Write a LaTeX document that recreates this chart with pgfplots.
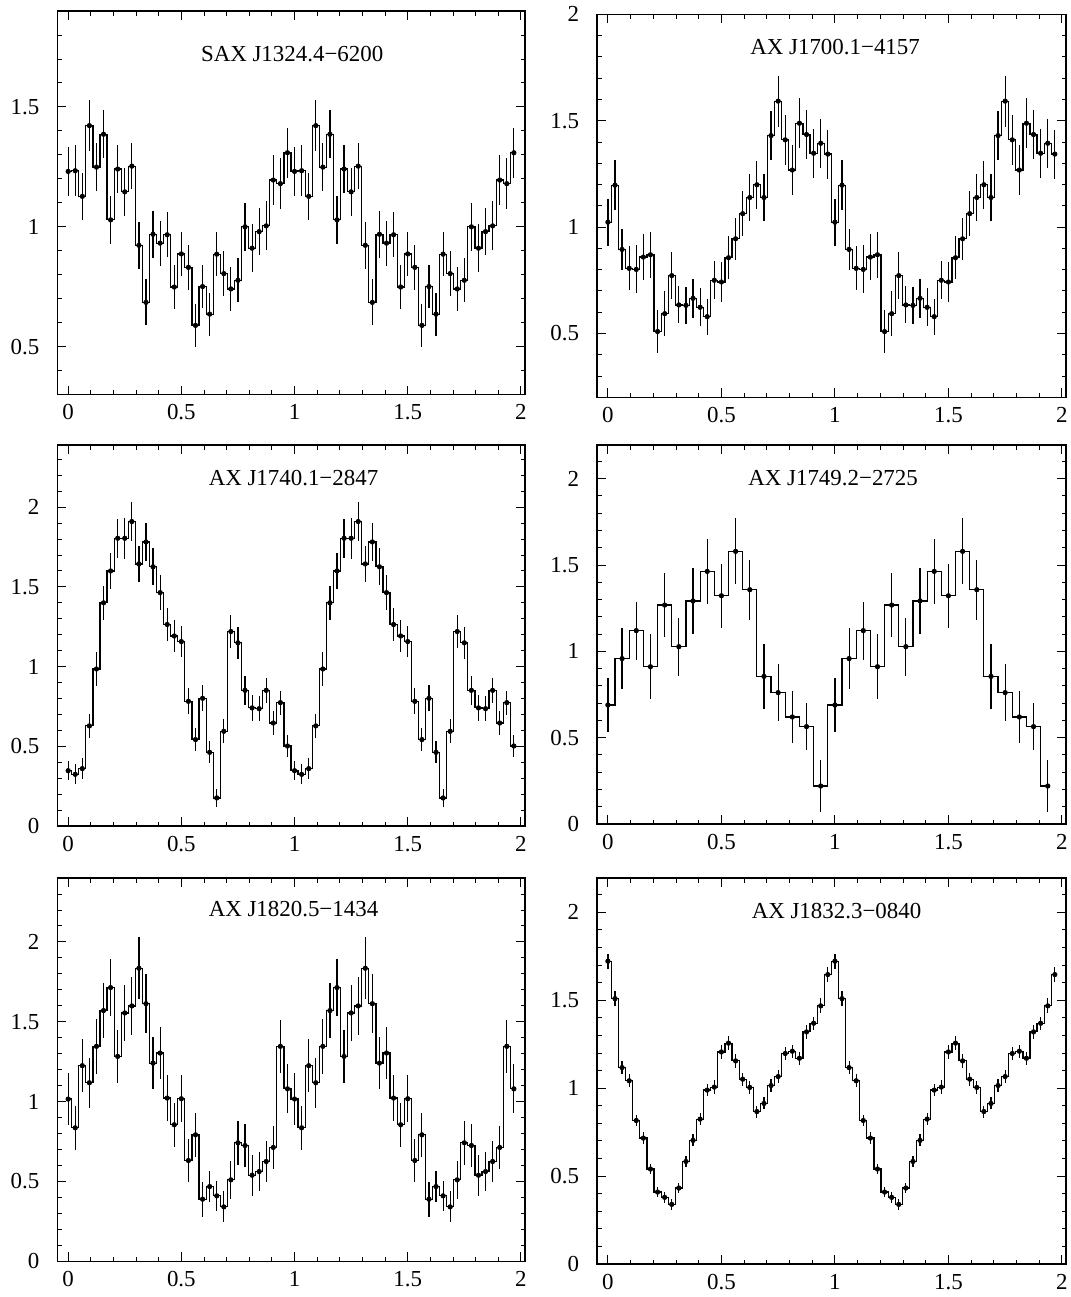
\documentclass[border=0pt]{standalone}
\usepackage{pgfplots}
\pgfplotsset{compat=1.18}
\usepackage{pgfplotstable}
\usepackage{fontspec}
\setmainfont{Liberation Serif}

\pgfplotstableread{
x y e
0.00000 1.231 0.103
0.03125 1.234 0.106
0.06250 1.127 0.099
0.09375 1.422 0.107
0.12500 1.249 0.101
0.15625 1.386 0.100
0.18750 1.029 0.099
0.21875 1.241 0.100
0.25000 1.146 0.100
0.28125 1.253 0.096
0.31250 0.923 0.097
0.34375 0.685 0.096
0.37500 0.969 0.097
0.40625 0.932 0.094
0.43750 0.967 0.093
0.46875 0.749 0.092
0.50000 0.887 0.092
0.53125 0.831 0.093
0.56250 0.589 0.090
0.59375 0.751 0.091
0.62500 0.636 0.090
0.65625 0.886 0.092
0.68750 0.805 0.093
0.71875 0.741 0.093
0.75000 0.777 0.092
0.78125 1.000 0.099
0.81250 0.911 0.099
0.84375 0.980 0.098
0.87500 1.004 0.102
0.90625 1.195 0.106
0.93750 1.180 0.106
0.96875 1.309 0.104
1.00000 1.231 0.103
1.03125 1.234 0.106
1.06250 1.127 0.099
1.09375 1.422 0.107
1.12500 1.249 0.101
1.15625 1.386 0.100
1.18750 1.029 0.099
1.21875 1.241 0.100
1.25000 1.146 0.100
1.28125 1.253 0.096
1.31250 0.923 0.097
1.34375 0.685 0.096
1.37500 0.969 0.097
1.40625 0.932 0.094
1.43750 0.967 0.093
1.46875 0.749 0.092
1.50000 0.887 0.092
1.53125 0.831 0.093
1.56250 0.589 0.090
1.59375 0.751 0.091
1.62500 0.636 0.090
1.65625 0.886 0.092
1.68750 0.805 0.093
1.71875 0.741 0.093
1.75000 0.777 0.092
1.78125 1.000 0.099
1.81250 0.911 0.099
1.84375 0.980 0.098
1.87500 1.004 0.102
1.90625 1.195 0.106
1.93750 1.180 0.106
1.96875 1.309 0.104
}\dataA

\pgfplotstableread{
x y e
0.00000 1.023 0.110
0.03125 1.197 0.116
0.06250 0.895 0.098
0.09375 0.806 0.103
0.12500 0.801 0.113
0.15625 0.859 0.109
0.18750 0.870 0.108
0.21875 0.509 0.103
0.25000 0.593 0.107
0.28125 0.772 0.110
0.31250 0.634 0.087
0.34375 0.632 0.088
0.37500 0.665 0.093
0.40625 0.623 0.090
0.43750 0.579 0.085
0.46875 0.750 0.090
0.50000 0.742 0.094
0.53125 0.856 0.100
0.56250 0.945 0.100
0.59375 1.063 0.105
0.62500 1.139 0.110
0.65625 1.199 0.113
0.68750 1.139 0.110
0.71875 1.430 0.115
0.75000 1.592 0.120
0.78125 1.410 0.118
0.81250 1.268 0.117
0.84375 1.488 0.117
0.87500 1.435 0.115
0.90625 1.347 0.115
0.93750 1.394 0.115
0.96875 1.343 0.115
1.00000 1.023 0.110
1.03125 1.197 0.116
1.06250 0.895 0.098
1.09375 0.806 0.103
1.12500 0.801 0.113
1.15625 0.859 0.109
1.18750 0.870 0.108
1.21875 0.509 0.103
1.25000 0.593 0.107
1.28125 0.772 0.110
1.31250 0.634 0.087
1.34375 0.632 0.088
1.37500 0.665 0.093
1.40625 0.623 0.090
1.43750 0.579 0.085
1.46875 0.750 0.090
1.50000 0.742 0.094
1.53125 0.856 0.100
1.56250 0.945 0.100
1.59375 1.063 0.105
1.62500 1.139 0.110
1.65625 1.199 0.113
1.68750 1.139 0.110
1.71875 1.430 0.115
1.75000 1.592 0.120
1.78125 1.410 0.118
1.81250 1.268 0.117
1.84375 1.488 0.117
1.87500 1.435 0.115
1.90625 1.347 0.115
1.93750 1.394 0.115
1.96875 1.343 0.115
}\dataB

\pgfplotstableread{
x y e
0.00000 0.347 0.058
0.03125 0.324 0.063
0.06250 0.360 0.065
0.09375 0.628 0.076
0.12500 0.985 0.105
0.15625 1.400 0.105
0.18750 1.600 0.115
0.21875 1.805 0.123
0.25000 1.805 0.128
0.28125 1.910 0.125
0.31250 1.644 0.115
0.34375 1.782 0.117
0.37500 1.626 0.117
0.40625 1.464 0.110
0.43750 1.264 0.105
0.46875 1.192 0.101
0.50000 1.157 0.095
0.53125 0.782 0.082
0.56250 0.542 0.073
0.59375 0.801 0.082
0.62500 0.462 0.069
0.65625 0.176 0.055
0.68750 0.594 0.075
0.71875 1.220 0.103
0.75000 1.149 0.099
0.78125 0.851 0.089
0.81250 0.741 0.080
0.84375 0.736 0.080
0.87500 0.851 0.078
0.90625 0.646 0.078
0.93750 0.774 0.075
0.96875 0.502 0.069
1.00000 0.347 0.058
1.03125 0.324 0.063
1.06250 0.360 0.065
1.09375 0.628 0.076
1.12500 0.985 0.105
1.15625 1.400 0.105
1.18750 1.600 0.115
1.21875 1.805 0.123
1.25000 1.805 0.128
1.28125 1.910 0.125
1.31250 1.644 0.115
1.34375 1.782 0.117
1.37500 1.626 0.117
1.40625 1.464 0.110
1.43750 1.264 0.105
1.46875 1.192 0.101
1.50000 1.157 0.095
1.53125 0.782 0.082
1.56250 0.542 0.073
1.59375 0.801 0.082
1.62500 0.462 0.069
1.65625 0.176 0.055
1.68750 0.594 0.075
1.71875 1.220 0.103
1.75000 1.149 0.099
1.78125 0.851 0.089
1.81250 0.741 0.080
1.84375 0.736 0.080
1.87500 0.851 0.078
1.90625 0.646 0.078
1.93750 0.774 0.075
1.96875 0.502 0.069
}\dataC

\pgfplotstableread{
x y e
0.0000 0.689 0.157
0.0625 0.958 0.177
0.1250 1.120 0.168
0.1875 0.911 0.189
0.2500 1.268 0.183
0.3125 1.027 0.168
0.3750 1.292 0.193
0.4375 1.463 0.189
0.5000 1.322 0.186
0.5625 1.579 0.191
0.6250 1.357 0.173
0.6875 0.855 0.188
0.7500 0.761 0.167
0.8125 0.620 0.150
0.8750 0.564 0.135
0.9375 0.220 0.150
1.0000 0.689 0.157
1.0625 0.958 0.177
1.1250 1.120 0.168
1.1875 0.911 0.189
1.2500 1.268 0.183
1.3125 1.027 0.168
1.3750 1.292 0.193
1.4375 1.463 0.189
1.5000 1.322 0.186
1.5625 1.579 0.191
1.6250 1.357 0.173
1.6875 0.855 0.188
1.7500 0.761 0.167
1.8125 0.620 0.150
1.8750 0.564 0.135
1.9375 0.220 0.150
}\dataD

\pgfplotstableread{
x y e
0.00000 1.016 0.160
0.03125 0.836 0.138
0.06250 1.225 0.165
0.09375 1.118 0.157
0.12500 1.346 0.173
0.15625 1.570 0.173
0.18750 1.714 0.181
0.21875 1.283 0.164
0.25000 1.555 0.177
0.28125 1.599 0.184
0.31250 1.835 0.195
0.34375 1.613 0.183
0.37500 1.241 0.162
0.40625 1.304 0.164
0.43750 1.022 0.146
0.46875 0.855 0.139
0.50000 1.018 0.146
0.53125 0.631 0.135
0.56250 0.792 0.136
0.59375 0.389 0.110
0.62500 0.468 0.099
0.65625 0.410 0.094
0.68750 0.341 0.097
0.71875 0.510 0.120
0.75000 0.742 0.136
0.78125 0.725 0.133
0.81250 0.539 0.128
0.84375 0.562 0.120
0.87500 0.625 0.130
0.90625 0.713 0.134
0.93750 1.346 0.165
0.96875 1.080 0.154
1.00000 1.016 0.160
1.03125 0.836 0.138
1.06250 1.225 0.165
1.09375 1.118 0.157
1.12500 1.346 0.173
1.15625 1.570 0.173
1.18750 1.714 0.181
1.21875 1.283 0.164
1.25000 1.555 0.177
1.28125 1.599 0.184
1.31250 1.835 0.195
1.34375 1.613 0.183
1.37500 1.241 0.162
1.40625 1.304 0.164
1.43750 1.022 0.146
1.46875 0.855 0.139
1.50000 1.018 0.146
1.53125 0.631 0.135
1.56250 0.792 0.136
1.59375 0.389 0.110
1.62500 0.468 0.099
1.65625 0.410 0.094
1.68750 0.341 0.097
1.71875 0.510 0.120
1.75000 0.742 0.136
1.78125 0.725 0.133
1.81250 0.539 0.128
1.84375 0.562 0.120
1.87500 0.625 0.130
1.90625 0.713 0.134
1.93750 1.346 0.165
1.96875 1.080 0.154
}\dataE

\pgfplotstableread{
x y e
0.00000 1.722 0.042
0.03125 1.509 0.042
0.06250 1.117 0.038
0.09375 1.042 0.038
0.12500 0.816 0.034
0.15625 0.716 0.034
0.18750 0.540 0.030
0.21875 0.409 0.030
0.25000 0.379 0.030
0.28125 0.339 0.030
0.31250 0.432 0.030
0.34375 0.583 0.030
0.37500 0.703 0.034
0.40625 0.824 0.034
0.43750 0.989 0.034
0.46875 1.006 0.038
0.50000 1.206 0.038
0.53125 1.256 0.038
0.56250 1.155 0.038
0.59375 1.051 0.038
0.62500 1.004 0.038
0.65625 0.867 0.034
0.68750 0.913 0.034
0.71875 1.015 0.038
0.75000 1.066 0.038
0.78125 1.197 0.038
0.81250 1.210 0.038
0.84375 1.170 0.038
0.87500 1.320 0.038
0.90625 1.369 0.038
0.93750 1.468 0.042
0.96875 1.646 0.042
1.00000 1.722 0.042
1.03125 1.509 0.042
1.06250 1.117 0.038
1.09375 1.042 0.038
1.12500 0.816 0.034
1.15625 0.716 0.034
1.18750 0.540 0.030
1.21875 0.409 0.030
1.25000 0.379 0.030
1.28125 0.339 0.030
1.31250 0.432 0.030
1.34375 0.583 0.030
1.37500 0.703 0.034
1.40625 0.824 0.034
1.43750 0.989 0.034
1.46875 1.006 0.038
1.50000 1.206 0.038
1.53125 1.256 0.038
1.56250 1.155 0.038
1.59375 1.051 0.038
1.62500 1.004 0.038
1.65625 0.867 0.034
1.68750 0.913 0.034
1.71875 1.015 0.038
1.75000 1.066 0.038
1.78125 1.197 0.038
1.81250 1.210 0.038
1.84375 1.170 0.038
1.87500 1.320 0.038
1.90625 1.369 0.038
1.93750 1.468 0.042
1.96875 1.646 0.042
}\dataF

\pgfplotsset{
  pp/.style={
    scale only axis,
    anchor=north west,
    xmin=-0.048, xmax=2.018,
    xtick={0,0.5,1,1.5,2},
    minor xtick={0,0.1,...,2.0},
    minor ytick={0,0.1,...,2.4},
    tick align=inside,
    major tick length=4.5bp,
    minor tick length=2.25bp,
    every tick/.style={black, line width=0.45bp},
    axis line style={line width=0.55bp},
    ticklabel style={font=\fontsize{11.5}{13}\selectfont},
    /pgf/number format/assume math mode=true,
    yticklabel style={xshift=-5.5bp},
    xticklabel style={yshift=-1.5bp},
  },
  prof/.style={black, line width=0.6bp, const plot mark mid, mark=*,
    mark size=1.1bp, mark options={solid, fill=black, line width=0.4bp},
    error bars/.cd, y dir=both, y explicit, error mark=none,
    error bar style={line width=0.6bp, black}},
}
\tikzset{ttl/.style={anchor=base west, font=\fontsize{11.5}{13}\selectfont}}

\begin{document}
\begin{tikzpicture}
\path[use as bounding box] (0,0) rectangle (535.5bp,-648.5bp);

% Panel 1
\begin{axis}[pp, at={(28.65bp,-5.5bp)}, width=233.85bp, height=191.85bp,
  ymin=0.3, ymax=1.9, ytick={0.5,1,1.5}]
\addplot[prof] table[x=x, y=y, y error=e] {\dataA};
\node[ttl] at (rel axis cs:0.2923,0.8679) {SAX J1324.4−6200};
\end{axis}

% Panel 2
\begin{axis}[pp, at={(298.5bp,-7.15bp)}, width=234.5bp, height=191.5bp,
  ymin=0.2, ymax=2.0, ytick={0.5,1,1.5,2}]
\addplot[prof] table[x=x, y=y, y error=e] {\dataB};
\node[ttl] at (rel axis cs:0.312,0.8956) {AX J1700.1−4157};
\end{axis}

% Panel 3
\begin{axis}[pp, at={(28.65bp,-222.5bp)}, width=233.85bp, height=190.5bp,
  ymin=0, ymax=2.39, ytick={0,0.5,1,1.5,2}]
\addplot[prof] table[x=x, y=y, y error=e] {\dataC};
\node[ttl] at (rel axis cs:0.3088,0.895) {AX J1740.1−2847};
\end{axis}

% Panel 4
\begin{axis}[pp, at={(298.5bp,-222.5bp)}, width=234.5bp, height=189.5bp,
  ymin=0, ymax=2.195, ytick={0,0.5,1,1.5,2}]
\addplot[prof] table[x=x, y=y, y error=e] {\dataD};
\node[ttl] at (rel axis cs:0.3077,0.892) {AX J1749.2−2725};
\end{axis}

% Panel 5
\begin{axis}[pp, at={(28.65bp,-439bp)}, width=233.85bp, height=191.65bp,
  ymin=0, ymax=2.4, ytick={0,0.5,1,1.5,2}]
\addplot[prof] table[x=x, y=y, y error=e] {\dataE};
\node[ttl] at (rel axis cs:0.3088,0.899) {AX J1820.5−1434};
\end{axis}

% Panel 6
\begin{axis}[pp, at={(298.5bp,-439bp)}, width=234.5bp, height=193bp,
  ymin=0, ymax=2.195, ytick={0,0.5,1,1.5,2}]
\addplot[prof] table[x=x, y=y, y error=e] {\dataF};
\node[ttl] at (rel axis cs:0.315,0.896) {AX J1832.3−0840};
\end{axis}
\end{tikzpicture}
\end{document}
